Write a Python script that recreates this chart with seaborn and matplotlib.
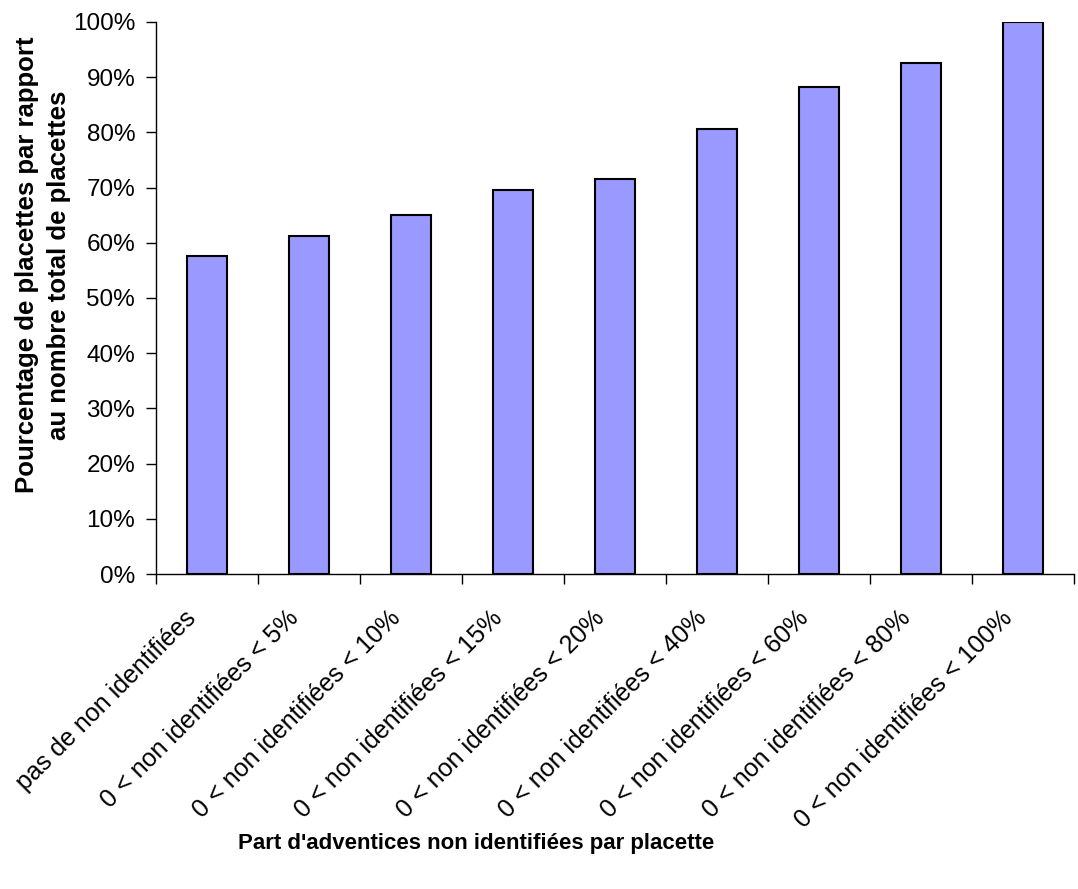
import pandas as pd
import matplotlib
matplotlib.use("Agg")
import matplotlib.pyplot as plt
import matplotlib.transforms as mtransforms
import seaborn as sns
from matplotlib.ticker import PercentFormatter, FixedLocator

categories = [
    "pas de non identifiées",
    "0 < non identifiées < 5%",
    "0 < non identifiées < 10%",
    "0 < non identifiées < 15%",
    "0 < non identifiées < 20%",
    "0 < non identifiées < 40%",
    "0 < non identifiées < 60%",
    "0 < non identifiées < 80%",
    "0 < non identifiées < 100%",
]
pourcentages = [57.6, 61.2, 65.1, 69.5, 71.6, 80.7, 88.3, 92.6, 100.0]

df = pd.DataFrame({"cat": categories, "pct": pourcentages})

sns.set_theme(style="white")
plt.rcParams["font.family"] = ["Liberation Sans", "DejaVu Sans"]
plt.rcParams["text.color"] = "black"
plt.rcParams["xtick.color"] = "black"
plt.rcParams["ytick.color"] = "black"
plt.rcParams["axes.labelcolor"] = "black"

fig = plt.figure(figsize=(10.78, 8.89), dpi=100)
ax = fig.add_axes([0.1447, 0.3543, 0.8516, 0.6210])

sns.barplot(data=df, x="cat", y="pct", color="#9999FF", saturation=1,
            edgecolor="black", linewidth=1.5, width=0.4, ax=ax)

ax.set_xlim(-0.5, len(categories) - 0.5)
ax.set_ylim(0, 100)
ax.set_yticks(range(0, 101, 10))
ax.yaxis.set_major_formatter(PercentFormatter(decimals=0))

# ticks between categories, labels at centres
ax.set_xticks(range(len(categories)))
ax.set_xticklabels(categories, rotation=45, ha="right", rotation_mode="anchor")
ax.xaxis.set_minor_locator(FixedLocator([i - 0.5 for i in range(len(categories) + 1)]))
ax.tick_params(axis="x", which="major", length=0, pad=23, labelsize=18)
ax.tick_params(axis="x", which="minor", length=7, width=1, direction="out", bottom=True)
ax.tick_params(axis="y", length=7, width=1, pad=8, direction="out", left=True, labelsize=17.5)

shift = mtransforms.ScaledTranslation(-23 / 100, 0, fig.dpi_scale_trans)
for lab in ax.get_xticklabels():
    lab.set_transform(lab.get_transform() + shift)

for side in ["top", "right"]:
    ax.spines[side].set_visible(False)
for side in ["left", "bottom"]:
    ax.spines[side].set_color("black")
    ax.spines[side].set_linewidth(1)

ax.set_xlabel("")
ax.set_ylabel("")
fig.text(476 / 1078, 1 - 843 / 889, "Part d'adventices non identifiées par placette",
         fontsize=16, fontweight="bold", ha="center", va="center")
fig.text(43 / 1078, 1 - 265 / 889,
         "Pourcentage de placettes par rapport\nau nombre total de placettes",
         fontsize=18.5, fontweight="bold", ha="center", va="center",
         rotation=90, multialignment="center", linespacing=1.38)

fig.savefig("out.png", dpi=100)
